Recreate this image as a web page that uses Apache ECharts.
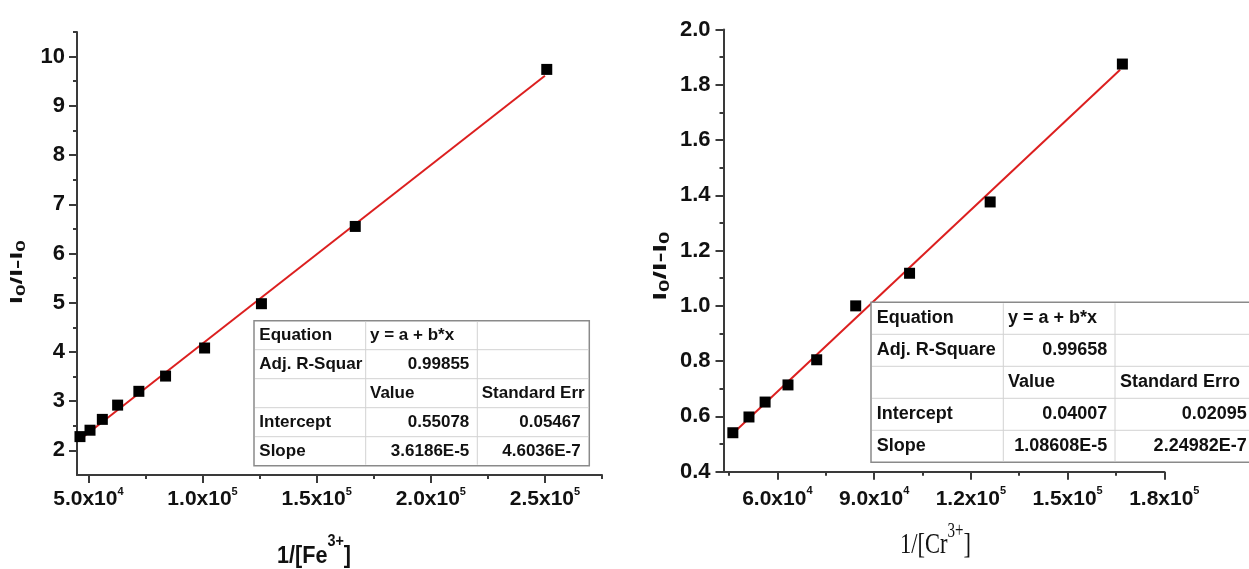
<!DOCTYPE html>
<html><head><meta charset="utf-8">
<script src="https://cdn.jsdelivr.net/npm/echarts@6/dist/echarts.min.js"></script>
<style>html,body{margin:0;padding:0;background:#fff}#c{width:1249px;height:569px}</style>
</head><body><div id="c"></div>
<script>
// ---------- data ----------
const feX = [46300, 50700, 56100, 62800, 72100, 83800, 100900, 125800, 166900, 250800];
const feY = [2.28, 2.41, 2.63, 2.92, 3.20, 3.51, 4.08, 4.98, 6.55, 9.74];
const feFitX = [45455, 250000];
const feFitY = [2.19, 9.61];
const crX = [46200, 51200, 56200, 63300, 72200, 84300, 101000, 126000, 167000];
const crY = [0.541, 0.598, 0.652, 0.714, 0.805, 1.000, 1.118, 1.376, 1.875];
const crFitX = [46200, 166300];
const crFitY = [0.538, 1.854];

const feXTicks = [50000, 100000, 150000, 200000, 250000];
const feXTickLabels = ['5.0x10^4', '1.0x10^5', '1.5x10^5', '2.0x10^5', '2.5x10^5'];
const feXMinor = [75000, 125000, 175000, 225000, 275000];
const feYTicks = [2, 3, 4, 5, 6, 7, 8, 9, 10];
const feYMinor = [2.5, 3.5, 4.5, 5.5, 6.5, 7.5, 8.5, 9.5, 10.5];
const crXTicks = [60000, 90000, 120000, 150000, 180000];
const crXTickLabels = ['6.0x10^4', '9.0x10^4', '1.2x10^5', '1.5x10^5', '1.8x10^5'];
const crXMinor = [45000, 75000, 105000, 135000, 165000];
const crYTicks = [0.4, 0.6, 0.8, 1.0, 1.2, 1.4, 1.6, 1.8, 2.0];
const crYTickLabels = ['0.4', '0.6', '0.8', '1.0', '1.2', '1.4', '1.6', '1.8', '2.0'];
const crYMinor = [0.5, 0.7, 0.9, 1.1, 1.3, 1.5, 1.7, 1.9];

const feTable = [
  ['Equation', 'y = a + b*x', ''],
  ['Adj. R-Squar', '0.99855', ''],
  ['', 'Value', 'Standard Err'],
  ['Intercept', '0.55078', '0.05467'],
  ['Slope', '3.6186E-5', '4.6036E-7']
];
const crTable = [
  ['Equation', 'y = a + b*x', ''],
  ['Adj. R-Square', '0.99658', ''],
  ['', 'Value', 'Standard Erro'],
  ['Intercept', '0.04007', '0.02095'],
  ['Slope', '1.08608E-5', '2.24982E-7']
];
const numericRows = [1, 3, 4];

// ---------- styling ----------
const SANS = "'Liberation Sans',Arial,sans-serif";
const SERIF = "'Liberation Serif','Times New Roman',serif";
const TXT = '#111111';
const AX = '#3a3a3a';
const TICKFS = 21;

const expRich = {
  m: {fontFamily: SANS, fontWeight: 'bold', fontSize: TICKFS, lineHeight: 24, verticalAlign: 'bottom', color: TXT},
  e: {fontFamily: SANS, fontWeight: 'bold', fontSize: 11, lineHeight: 9, verticalAlign: 'top', color: TXT}
};
function expFormatter(ticks, labels) {
  return function (v) {
    let i = ticks.findIndex(t => Math.abs(t - v) < 1e-6 * Math.max(1, Math.abs(t)));
    if (i < 0) return '';
    const p = labels[i].split('^');
    return '{m|' + p[0] + '}' + (p[1] ? '{e|' + p[1] + '}' : '');
  };
}

function mainX(gi, min, max, ticks, labels, margin) {
  return {
    type: 'value', gridIndex: gi, min: min, max: max, position: 'bottom',
    splitLine: {show: false},
    axisLine: {show: true, onZero: false, lineStyle: {color: AX, width: 2}},
    axisTick: {show: true, inside: false, length: 8, customValues: ticks, lineStyle: {color: AX, width: 2}},
    axisLabel: {show: true, margin: margin, customValues: ticks, formatter: expFormatter(ticks, labels), rich: expRich}
  };
}
function minorX(gi, min, max, ticks) {
  return {
    type: 'value', gridIndex: gi, min: min, max: max, position: 'bottom',
    splitLine: {show: false}, axisLine: {show: false, onZero: false},
    axisTick: {show: true, length: 4, customValues: ticks, lineStyle: {color: AX, width: 2}},
    axisLabel: {show: false}
  };
}
function mainY(gi, min, max, ticks, labels, margin) {
  return {
    type: 'value', gridIndex: gi, min: min, max: max, position: 'left',
    splitLine: {show: false},
    axisLine: {show: true, onZero: false, lineStyle: {color: AX, width: 2}},
    axisTick: {show: true, length: 8, customValues: ticks, lineStyle: {color: AX, width: 2}},
    axisLabel: {show: true, margin: margin, customValues: ticks,
      formatter: function (v) {
        const i = ticks.findIndex(t => Math.abs(t - v) < 1e-9);
        return i < 0 ? '' : labels[i];
      },
      fontFamily: SANS, fontWeight: 'bold', fontSize: 22, color: TXT}
  };
}
function minorY(gi, min, max, ticks) {
  return {
    type: 'value', gridIndex: gi, min: min, max: max, position: 'left',
    splitLine: {show: false}, axisLine: {show: false, onZero: false},
    axisTick: {show: true, length: 4, customValues: ticks, lineStyle: {color: AX, width: 2}},
    axisLabel: {show: false}
  };
}

function zip(a, b) { return a.map((v, i) => [v, b[i]]); }

// ---------- tables ----------
function buildTable(x0, y0, colW, rowH, rows, fs, padL, padR) {
  const els = [];
  const totalW = colW.reduce((s, w) => s + w, 0);
  const totalH = rowH * rows.length;
  els.push({type: 'rect', shape: {x: x0, y: y0, width: totalW, height: totalH},
    style: {fill: '#fff', stroke: '#8a8a8a', lineWidth: 1.5}, z: 10});
  for (let r = 1; r < rows.length; r++) {
    els.push({type: 'line', shape: {x1: x0 + 1, y1: y0 + r * rowH, x2: x0 + totalW - 1, y2: y0 + r * rowH},
      style: {stroke: '#d2d2d2', lineWidth: 1}, z: 11});
  }
  let cx = x0;
  const colX = [];
  for (let c = 0; c < colW.length; c++) {
    colX.push(cx);
    if (c > 0) els.push({type: 'line', shape: {x1: cx, y1: y0 + 1, x2: cx, y2: y0 + totalH - 1},
      style: {stroke: '#d2d2d2', lineWidth: 1}, z: 11});
    cx += colW[c];
  }
  rows.forEach((row, r) => {
    row.forEach((t, c) => {
      if (!t) return;
      const right = c > 0 && numericRows.indexOf(r) >= 0;
      els.push({type: 'text', z: 12,
        x: right ? colX[c] + colW[c] - padR[c] : colX[c] + padL[c],
        y: y0 + r * rowH + rowH / 2,
        style: {text: t, fill: TXT, font: 'bold ' + fs + 'px ' + SANS,
          align: right ? 'right' : 'left', verticalAlign: 'middle'}});
    });
  });
  return els;
}

// ---------- titles ----------
const yTitleRich = (fs, sfs) => ({
  m: {fontFamily: SANS, fontWeight: 'bold', fontSize: fs, lineHeight: fs + 2, verticalAlign: 'top', fill: TXT},
  s: {fontFamily: SANS, fontWeight: 'bold', fontSize: sfs, lineHeight: sfs, verticalAlign: 'bottom', fill: TXT}
});

const graphics = []
  .concat(buildTable(254, 320.7, [111.7, 111.6, 112], 29, feTable, 17, [5.3, 4.3, 4.4], [0, 8, 8.6]))
  .concat(buildTable(871, 302.3, [132.3, 111.7, 140], 32, crTable, 18, [5.7, 4.7, 5], [0, 7.7, 8.3]))
  .concat([
    {type: 'text', x: 19, y: 272, rotation: Math.PI / 2, scaleX: 1.75, scaleY: 1.0,
      style: {text: '{m|I}{s|0}{m|/I-I}{s|0}', rich: yTitleRich(16, 12), align: 'center', verticalAlign: 'middle'}},
    {type: 'text', x: 662, y: 266, rotation: Math.PI / 2, scaleX: 1.6, scaleY: 1.0,
      style: {text: '{m|I}{s|0}{m|/I-I}{s|0}', rich: yTitleRich(19, 14), align: 'center', verticalAlign: 'middle'}},
    {type: 'text', x: 277, y: 568, scaleX: 0.9,
      style: {text: '{m|1/[Fe}{e|3+}{m|]}', align: 'left', verticalAlign: 'bottom',
        rich: {m: {fontFamily: SANS, fontWeight: 'bold', fontSize: 24, lineHeight: 34, verticalAlign: 'bottom', fill: TXT},
               e: {fontFamily: SANS, fontWeight: 'bold', fontSize: 16, lineHeight: 17, verticalAlign: 'top', fill: TXT}}}},
    {type: 'text', x: 900, y: 560, scaleX: 0.75,
      style: {text: '{m|1/[Cr}{e|3+}{m|]}', align: 'left', verticalAlign: 'bottom',
        rich: {m: {fontFamily: SERIF, fontSize: 30, lineHeight: 38, verticalAlign: 'bottom', fill: TXT},
               e: {fontFamily: SERIF, fontSize: 20, lineHeight: 19, verticalAlign: 'top', fill: TXT}}}}
  ]);

const chart = echarts.init(document.getElementById('c'), null, {renderer: 'canvas'});
chart.setOption({
  backgroundColor: '#ffffff',
  animation: false,
  grid: [
    {left: 77, top: 32, width: 525, height: 443},
    {left: 723.5, top: 29.5, width: 440.8, height: 442.2}
  ],
  xAxis: [
    mainX(0, 45000, 275000, feXTicks, feXTickLabels, 11),
    minorX(0, 45000, 275000, feXMinor),
    mainX(1, 43300, 180000, crXTicks, crXTickLabels, 14),
    minorX(1, 43300, 180000, crXMinor)
  ],
  yAxis: [
    mainY(0, 1.5, 10.5, feYTicks, feYTicks.map(String), 12),
    minorY(0, 1.5, 10.5, feYMinor),
    mainY(1, 0.4, 2.0, crYTicks, crYTickLabels, 13),
    minorY(1, 0.4, 2.0, crYMinor)
  ],
  series: [
    {type: 'line', xAxisIndex: 0, yAxisIndex: 0, data: zip(feFitX, feFitY), showSymbol: false,
      lineStyle: {color: '#dc1f1f', width: 2}, z: 2},
    {type: 'scatter', xAxisIndex: 0, yAxisIndex: 0, data: zip(feX, feY), symbol: 'rect', symbolSize: 11,
      itemStyle: {color: '#000000', opacity: 1}, z: 3},
    {type: 'line', xAxisIndex: 2, yAxisIndex: 2, data: zip(crFitX, crFitY), showSymbol: false,
      lineStyle: {color: '#dc1f1f', width: 2}, z: 2},
    {type: 'scatter', xAxisIndex: 2, yAxisIndex: 2, data: zip(crX, crY), symbol: 'rect', symbolSize: 11,
      itemStyle: {color: '#000000', opacity: 1}, z: 3}
  ],
  graphic: graphics
});
</script>
</body></html>
